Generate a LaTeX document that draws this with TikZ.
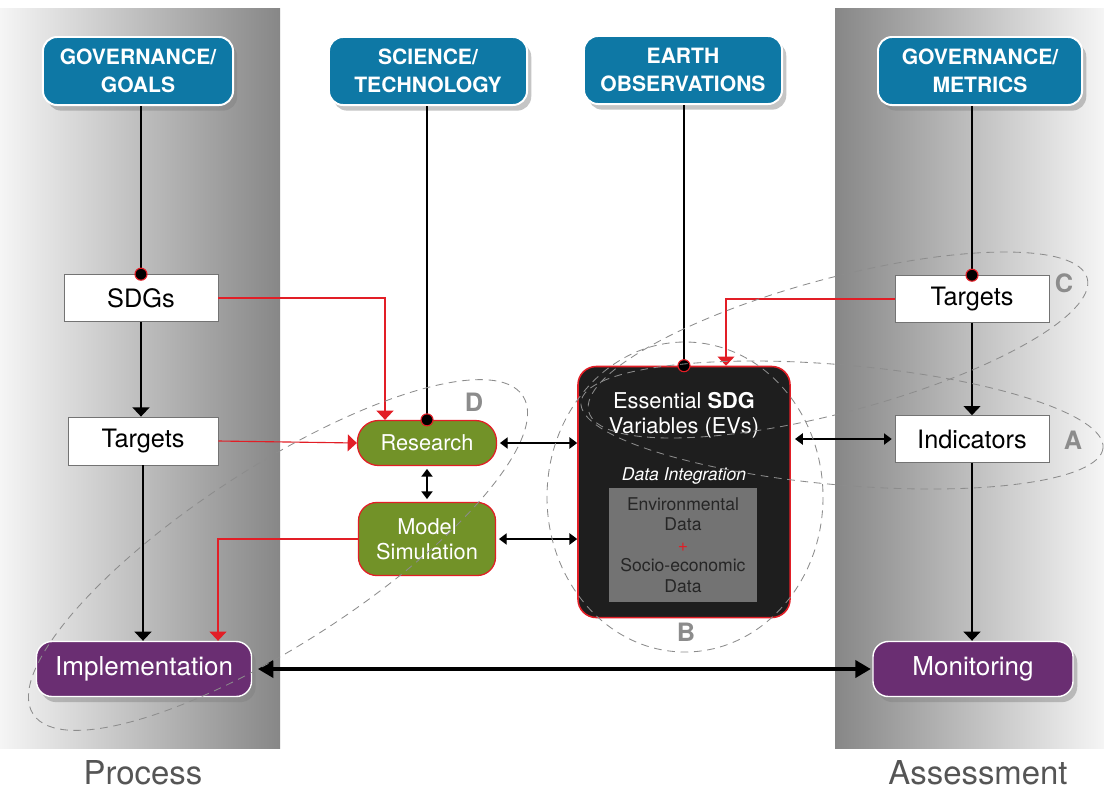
\documentclass[tikz,border=0pt]{standalone}
\usepackage{fontspec}
\setmainfont{TeX Gyre Heros}
\usepackage{tikz}
\usetikzlibrary{positioning}
\usetikzlibrary{shapes,backgrounds,arrows.meta,calc,shadows}

\definecolor{sdgblue}{RGB}{14,120,165}
\definecolor{sdggreen}{RGB}{114,146,40}
\definecolor{sdgpurple}{RGB}{106,46,114}
\definecolor{sdgred}{RGB}{226,30,38}
\definecolor{evblack}{RGB}{30,30,30}
\definecolor{innergray}{RGB}{115,115,115}
\definecolor{ringgray}{RGB}{140,140,140}
\definecolor{panellight}{RGB}{245,245,245}
\definecolor{paneldark}{RGB}{135,135,135}
\definecolor{textgray}{RGB}{85,85,85}

\begin{document}
\begin{tikzpicture}[x=0.025cm,y=-0.025cm]
\tikzset{
  topbox/.style={draw=white, line width=1.4pt, fill=sdgblue, rounded corners=10pt, text=white,
    font=\fontsize{15}{19.5}\selectfont\bfseries, align=center, minimum height=1.7cm,
    drop shadow={opacity=0.45, shadow xshift=3pt, shadow yshift=-4pt}},
  whitebox/.style={draw=gray!90!black, fill=white, line width=0.6pt, minimum width=3.85cm,
    minimum height=1.17cm, font=\fontsize{18}{21}\selectfont},
  greenbox/.style={draw=sdgred, fill=sdggreen, text=white, line width=0.9pt,
    font=\fontsize{15.5}{18}\selectfont, align=center},
  purplebox/.style={draw=white, fill=sdgpurple, text=white, line width=1pt, rounded corners=11pt,
    minimum height=1.375cm, font=\fontsize{18.5}{21}\selectfont,
    drop shadow={opacity=0.45, shadow xshift=3pt, shadow yshift=-4pt}},
  link/.style={line width=1pt, -{Triangle[width=12pt,length=6.5pt]}},
  redlink/.style={sdgred, line width=0.8pt, -{Triangle[width=12pt,length=6.5pt]}},
  twoway/.style={line width=1pt, {Triangle[width=8pt,length=5.5pt]}-{Triangle[width=8pt,length=5.5pt]}},
  bigway/.style={line width=3.5pt, {Triangle[width=12pt,length=11pt]}-{Triangle[width=12pt,length=11pt]}},
  ring/.style={draw=ringgray, line width=0.6pt, dash pattern=on 5.5pt off 4pt},
  ringlabel/.style={text=ringgray, font=\fontsize{18}{20}\selectfont\bfseries},
  joindot/.style={fill=black, draw=sdgred, line width=0.8pt},
  sidelabel/.style={text=textgray, font=\fontsize{23.4}{26}\selectfont, inner sep=0pt},
}
\useasboundingbox (0,0) rectangle (1104,792);
\fill[white] (0,0) rectangle (1104,792);

% side panels
\shade[left color=panellight, right color=paneldark] (0,8) rectangle (280,748);
\shade[left color=paneldark, right color=panellight] (835,8) rectangle (1104,748);

% top sources
\node[topbox, minimum width=4.75cm] at (138,71) (govgoals) {GOVERNANCE/\\GOALS};
\node[topbox, minimum width=4.95cm] at (428,71) (scitech) {SCIENCE/\\TECHNOLOGY};
\node[topbox, minimum width=4.95cm] at (683,70) (earthobs) {EARTH\\OBSERVATIONS};
\node[topbox, minimum width=5.1cm] at (980,71) (govmetrics) {GOVERNANCE/\\METRICS};

% process side
\node[whitebox] at (141,298) (sdgs) {SDGs};
\node[whitebox, minimum width=3.75cm, minimum height=1.2cm] at (143,441) (targetsL) {Targets};
\node[purplebox, minimum width=5.375cm] at (144,669) (impl) {Implementation};

% middle
\node[greenbox, rounded corners=15pt, minimum width=3.475cm, minimum height=1.125cm] at (427,443) (research) {Research};
\node[greenbox, rounded corners=13pt, minimum width=3.425cm, minimum height=1.825cm] at (427,539) (model) {Model\\Simulation};
\node[draw=sdgred, fill=evblack, line width=1.1pt, rounded corners=13pt,
  minimum width=5.3cm, minimum height=6.275cm] at (684,492) (ev) {};
\node[text=white, font=\fontsize{15.5}{18}\selectfont, align=center] at (684,415) (evtitle)
  {Essential \textbf{SDG}\\Variables (EVs)};
\node[text=white, font=\fontsize{12.5}{15}\selectfont\itshape] at (684,476) (dataint) {Data Integration};
\node[fill=innergray, text=black!85, font=\fontsize{12.5}{14.6}\selectfont, align=center,
  minimum width=3.675cm, minimum height=2.85cm] at (683,545) (datamix)
  {Environmental\\Data\\{\color{sdgred}+}\\Socio-economic\\Data};

% assessment side
\node[whitebox] at (972,299) (targetsR) {Targets};
\node[whitebox] at (972,439) (indicators) {Indicators};
\node[purplebox, minimum width=5cm] at (973,669) (monitoring) {Monitoring};

% connectors
\foreach \a/\b in {govgoals/sdgs, scitech/research, earthobs/ev, govmetrics/targetsR}{
  \draw[line width=1pt] (\b.north |- \a.south) -- (\b.north);
  \fill[joindot] (\b.north) circle (6);
}
\foreach \a/\b in {sdgs/targetsL, targetsL/impl, targetsR/indicators, indicators/monitoring}
  \draw[link] (\a.south) -- (\a.south |- \b.north);

\draw[redlink] (sdgs.east) -| ($(research.north)+(-42,0)$);
\draw[redlink] (targetsL.east) -- (research.west);
\draw[redlink] (model.west) -| ($(impl.north)+(74,0)$);
\draw[redlink] (targetsR.west) -| ($(ev.north)+(42,0)$);

\draw[twoway, shorten <=2pt, shorten >=2pt] (research.south) -- (research.south |- model.north);
\draw[twoway, shorten <=2pt] (research.east) -- (research.east -| ev.west);
\draw[twoway, shorten <=2pt] (model.east) -- (model.east -| ev.west);
\draw[twoway, shorten <=3pt, shorten >=2pt] (indicators.west -| ev.east) -- (indicators.west);
\draw[bigway, shorten <=4pt, shorten >=1pt] (impl.east) -- (impl.east -| monitoring.west);

% dashed groupings
\draw[ring, rotate around={33:(278,555)}] (278,555) ellipse [x radius=292, y radius=88];
\draw[ring] (685,497) ellipse [x radius=138, y radius=155];
\draw[ring, rotate around={15:(838,345)}] (838,345) ellipse [x radius=258, y radius=67];
\draw[ring, rotate around={-5:(842,425)}] (842,425) ellipse [x radius=262, y radius=60];

\node[ringlabel] at (1073,440) (labA) {A};
\node[ringlabel] at (686,632) (labB) {B};
\node[ringlabel] at (1064,283) (labC) {C};
\node[ringlabel] at (474,402) (labD) {D};

\node[sidelabel] at (143,773) (process) {Process};
\node[sidelabel] at (978,773) (assess) {Assessment};
\end{tikzpicture}
\end{document}
